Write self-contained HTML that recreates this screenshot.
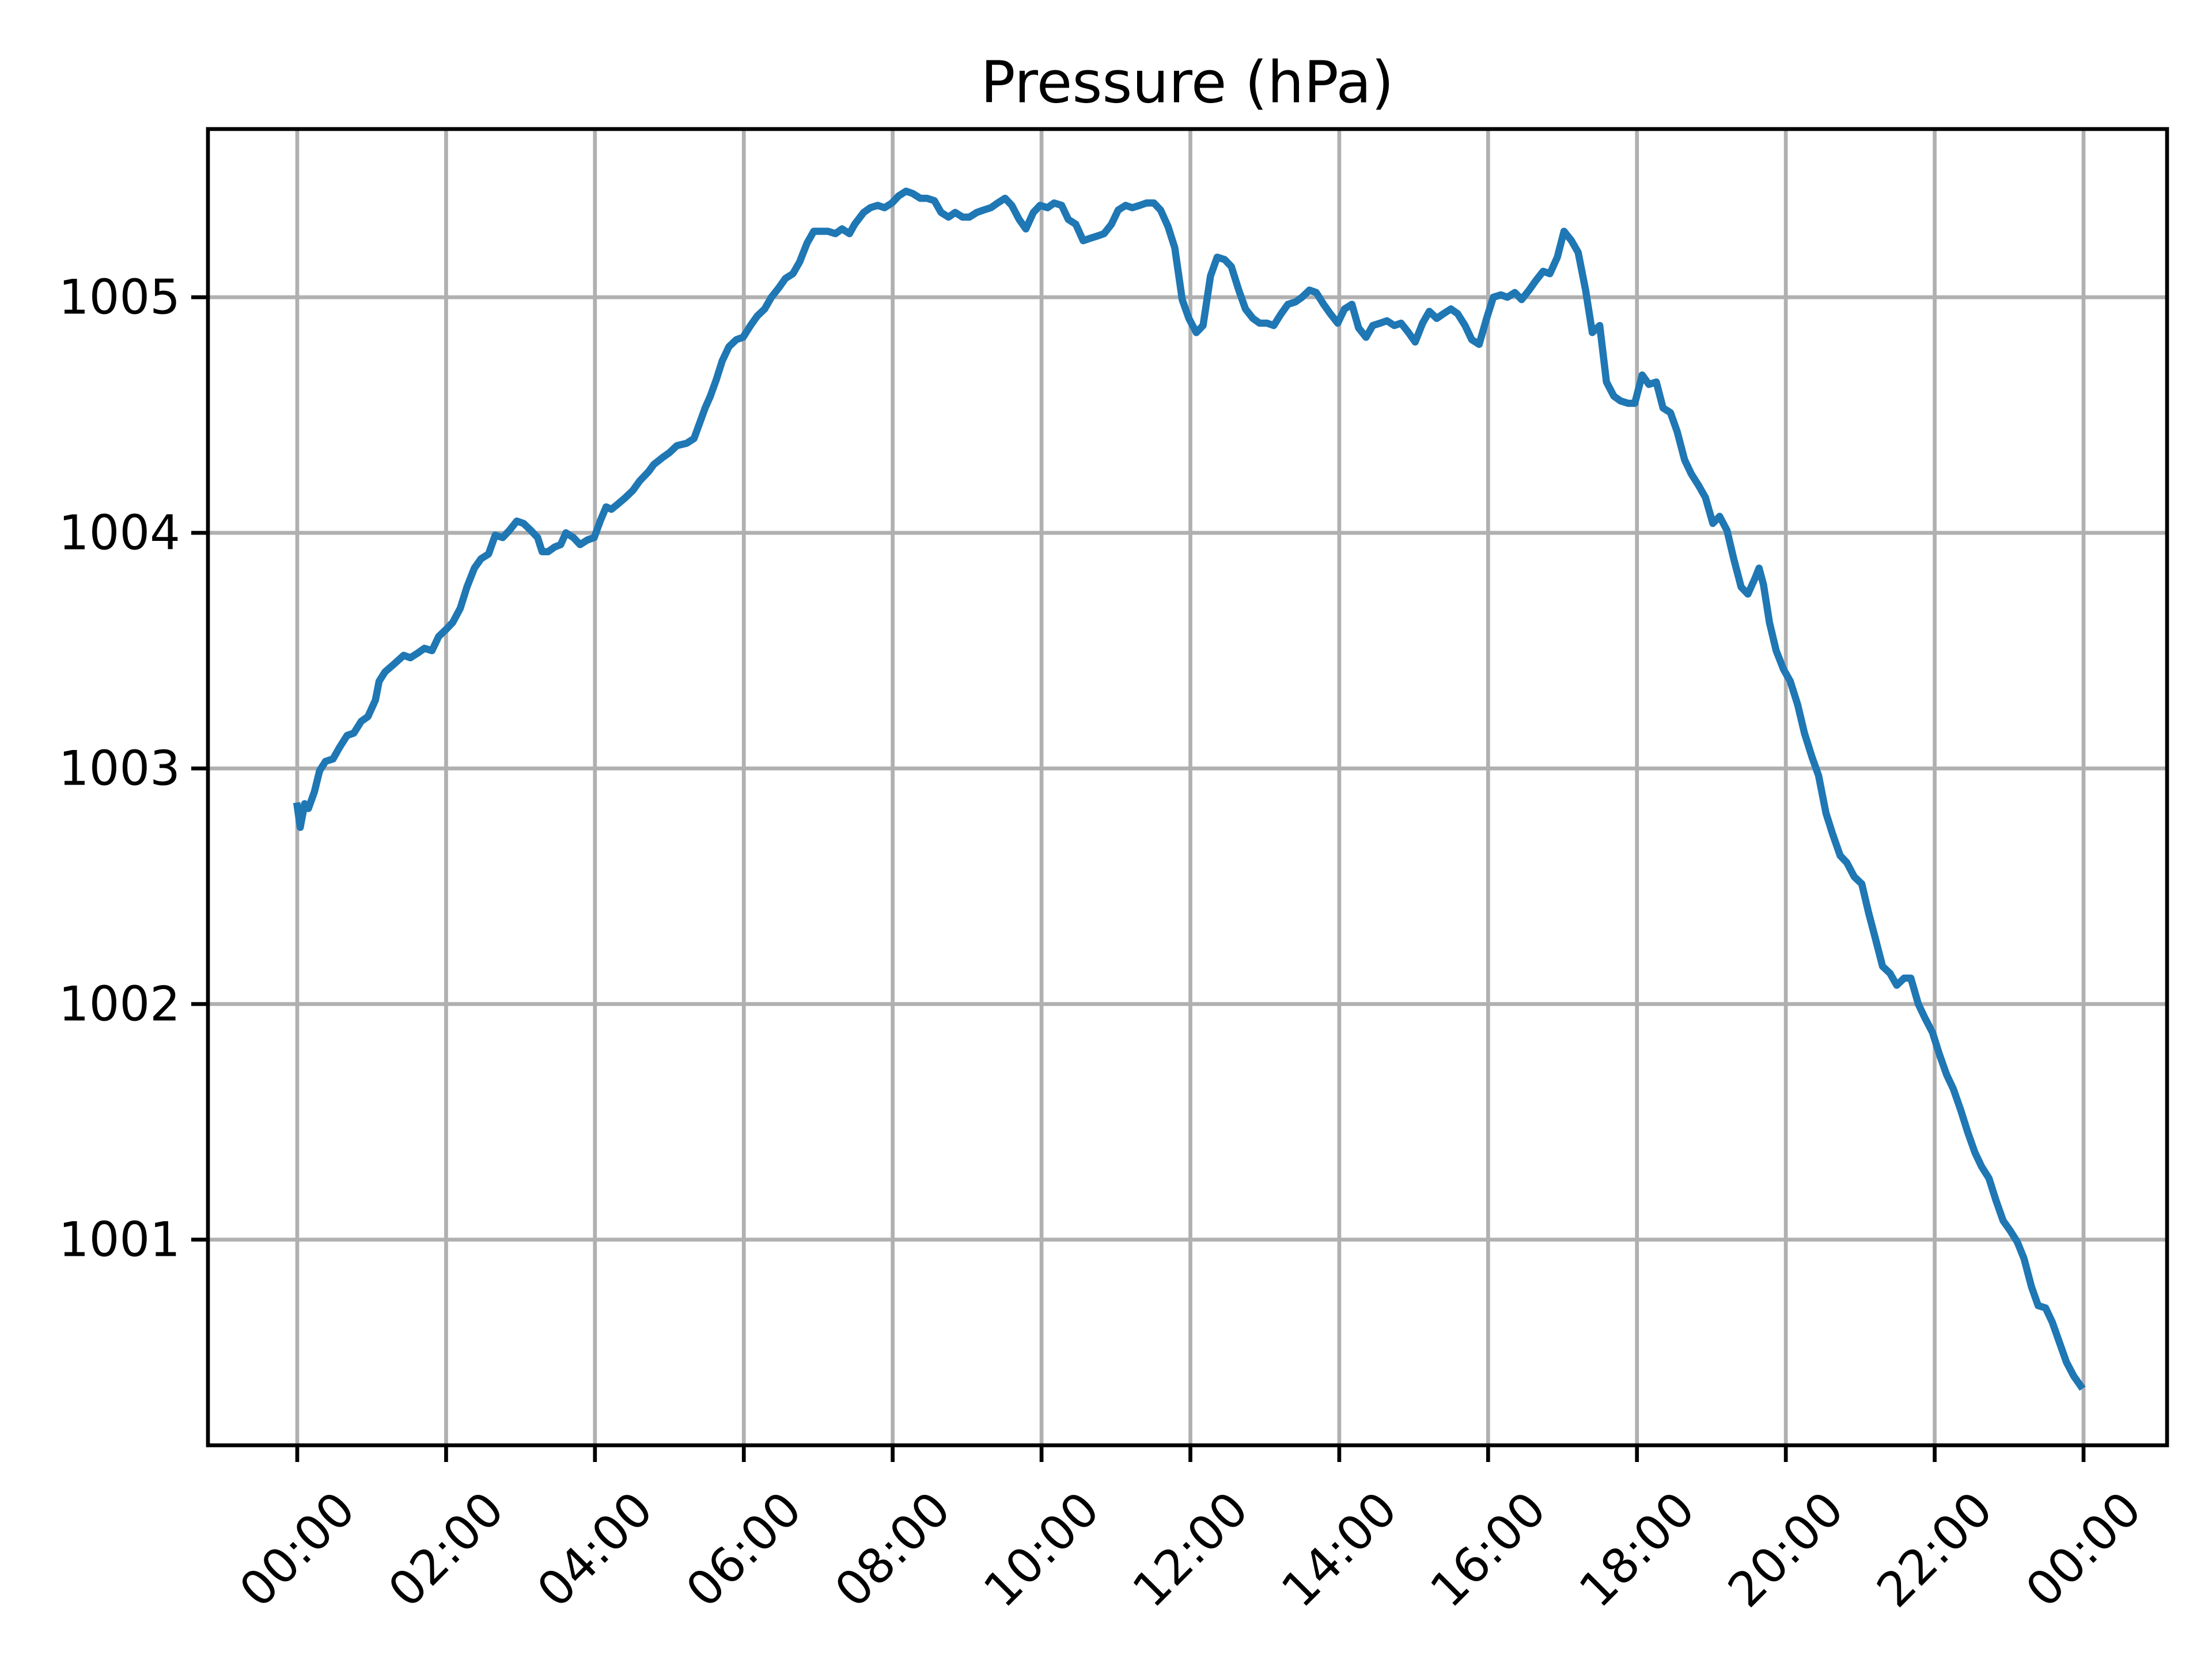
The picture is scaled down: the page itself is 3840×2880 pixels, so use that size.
<!DOCTYPE html>
<html><head><meta charset="utf-8"><style>html,body{margin:0;padding:0;background:#fff}svg{display:block}</style></head>
<body>
<svg id="chart" width="3840" height="2880" viewBox="0 0 3840 2880" xmlns="http://www.w3.org/2000/svg" font-family="'DejaVu Sans','Liberation Sans',sans-serif">
<rect width="3840" height="2880" fill="#fff"/>
<text x="2061" y="143" font-size="100" text-anchor="middle" dominant-baseline="central">Pressure (hPa)</text>
<g id="grid"></g>
<g id="axes"></g>
<path id="series" fill="none" stroke="#1f77b4" stroke-width="12.5" stroke-linejoin="round" stroke-linecap="square"/>
<rect x="361" y="224" width="3401" height="2285" fill="none" stroke="#000" stroke-width="6.7"/>
</svg>
<script>
const hours=[0,0.04,0.10,0.15,0.23,0.30,0.38,0.48,0.57,0.67,0.76,0.86,0.95,1.05,1.10,1.18,1.29,1.43,1.52,1.62,1.71,1.81,1.90,2.00,2.09,2.19,2.28,2.38,2.47,2.57,2.66,2.76,2.85,2.95,3.04,3.14,3.23,3.29,3.37,3.46,3.54,3.61,3.71,3.80,3.90,3.99,4.07,4.15,4.22,4.30,4.41,4.51,4.60,4.72,4.79,4.91,5.00,5.10,5.23,5.33,5.40,5.48,5.55,5.63,5.71,5.80,5.90,5.99,6.09,6.18,6.28,6.37,6.47,6.56,6.66,6.75,6.85,6.94,7.04,7.13,7.23,7.32,7.42,7.49,7.61,7.70,7.80,7.89,7.99,8.08,8.18,8.27,8.37,8.46,8.56,8.65,8.75,8.84,8.94,9.03,9.13,9.22,9.32,9.41,9.51,9.60,9.70,9.79,9.89,9.98,10.08,10.17,10.27,10.36,10.46,10.56,10.65,10.75,10.84,10.94,11.03,11.13,11.22,11.32,11.41,11.51,11.60,11.70,11.79,11.89,11.98,12.08,12.17,12.27,12.36,12.46,12.55,12.65,12.74,12.84,12.93,13.03,13.12,13.22,13.31,13.41,13.50,13.60,13.69,13.79,13.88,13.98,14.07,14.17,14.26,14.36,14.45,14.55,14.64,14.74,14.83,14.93,15.02,15.12,15.21,15.31,15.40,15.50,15.59,15.69,15.78,15.88,15.98,16.07,16.17,16.26,16.36,16.45,16.55,16.64,16.74,16.83,16.93,17.02,17.12,17.21,17.31,17.40,17.50,17.59,17.69,17.78,17.88,17.97,18.07,18.16,18.26,18.35,18.45,18.54,18.64,18.73,18.83,18.92,19.02,19.11,19.21,19.30,19.40,19.49,19.59,19.64,19.70,19.78,19.87,19.97,20.06,20.16,20.25,20.35,20.44,20.54,20.63,20.73,20.82,20.92,21.02,21.11,21.21,21.30,21.40,21.49,21.59,21.68,21.78,21.87,21.97,22.06,22.16,22.25,22.35,22.44,22.54,22.63,22.73,22.82,22.92,23.01,23.11,23.20,23.30,23.39,23.49,23.58,23.68,23.77,23.87,23.96];
const pressure=[1002.84,1002.75,1002.85,1002.83,1002.90,1002.99,1003.03,1003.04,1003.09,1003.14,1003.15,1003.20,1003.22,1003.29,1003.37,1003.41,1003.44,1003.48,1003.47,1003.49,1003.51,1003.50,1003.56,1003.59,1003.62,1003.68,1003.77,1003.85,1003.89,1003.91,1003.99,1003.98,1004.01,1004.05,1004.04,1004.01,1003.98,1003.92,1003.92,1003.94,1003.95,1004.00,1003.98,1003.95,1003.97,1003.98,1004.05,1004.11,1004.10,1004.12,1004.15,1004.18,1004.22,1004.26,1004.29,1004.32,1004.34,1004.37,1004.38,1004.40,1004.46,1004.53,1004.58,1004.65,1004.73,1004.79,1004.82,1004.83,1004.88,1004.92,1004.95,1005.00,1005.04,1005.08,1005.10,1005.15,1005.23,1005.28,1005.28,1005.28,1005.27,1005.29,1005.27,1005.31,1005.36,1005.38,1005.39,1005.38,1005.40,1005.43,1005.45,1005.44,1005.42,1005.42,1005.41,1005.36,1005.34,1005.36,1005.34,1005.34,1005.36,1005.37,1005.38,1005.40,1005.42,1005.39,1005.33,1005.29,1005.36,1005.39,1005.38,1005.40,1005.39,1005.33,1005.31,1005.24,1005.25,1005.26,1005.27,1005.31,1005.37,1005.39,1005.38,1005.39,1005.40,1005.40,1005.37,1005.30,1005.21,1004.99,1004.91,1004.85,1004.88,1005.09,1005.17,1005.16,1005.13,1005.03,1004.95,1004.91,1004.89,1004.89,1004.88,1004.93,1004.97,1004.98,1005.00,1005.03,1005.02,1004.97,1004.93,1004.89,1004.95,1004.97,1004.87,1004.83,1004.88,1004.89,1004.90,1004.88,1004.89,1004.85,1004.81,1004.89,1004.94,1004.91,1004.93,1004.95,1004.93,1004.88,1004.82,1004.80,1004.91,1005.00,1005.01,1005.00,1005.02,1004.99,1005.03,1005.07,1005.11,1005.10,1005.17,1005.28,1005.24,1005.19,1005.03,1004.85,1004.88,1004.64,1004.58,1004.56,1004.55,1004.55,1004.67,1004.63,1004.64,1004.53,1004.51,1004.43,1004.31,1004.25,1004.20,1004.15,1004.04,1004.07,1004.01,1003.89,1003.77,1003.74,1003.81,1003.85,1003.78,1003.62,1003.50,1003.42,1003.37,1003.27,1003.15,1003.05,1002.97,1002.81,1002.72,1002.63,1002.60,1002.54,1002.51,1002.39,1002.27,1002.16,1002.13,1002.08,1002.11,1002.11,1002.00,1001.94,1001.88,1001.79,1001.70,1001.64,1001.55,1001.46,1001.37,1001.31,1001.26,1001.17,1001.08,1001.04,1000.99,1000.92,1000.80,1000.72,1000.71,1000.65,1000.56,1000.48,1000.42,1000.38];
const xTickHours=[0,2,4,6,8,10,12,14,16,18,20,22,24];
const xTickLabels=["00:00","02:00","04:00","06:00","08:00","10:00","12:00","14:00","16:00","18:00","20:00","22:00","00:00"];
const yTickValues=[1001,1002,1003,1004,1005];
const yTickLabels=["1001","1002","1003","1004","1005"];

const L=361,R=3762,T=224,B=2509;
const X0=516,X1=3617;
function xs(h){return X0+h*(X1-X0)/24;}
function ys(v){return 516+(1005-v)*409;}
const NS="http://www.w3.org/2000/svg";
const grid=document.getElementById('grid'),axes=document.getElementById('axes');
function mk(tag,attrs,parent){const e=document.createElementNS(NS,tag);for(const k in attrs)e.setAttribute(k,attrs[k]);parent.appendChild(e);return e;}
xTickHours.forEach((h,i)=>{
  const x=xs(h);
  const g=mk('line',{x1:x,x2:x,y1:T,y2:B,stroke:'#b0b0b0','stroke-width':6.7},grid);
  
  
  const t=mk('line',{x1:x,x2:x,y1:B,y2:B+29,stroke:'#000','stroke-width':6.7},axes);
  
  
  const tx=mk('text',{x:x,y:2690,'font-size':83,'text-anchor':'middle','dominant-baseline':'central',transform:'rotate(-45 '+x+' 2690)'},axes);
  tx.textContent=xTickLabels[i];
  
  
});
yTickValues.forEach((v,i)=>{
  const y=ys(v);
  const g=mk('line',{x1:L,x2:R,y1:y,y2:y,stroke:'#b0b0b0','stroke-width':6.7},grid);
  
  
  const t=mk('line',{x1:L-29,x2:L,y1:y,y2:y,stroke:'#000','stroke-width':6.7},axes);
  
  
  const tx=mk('text',{x:L-48,y:y,'font-size':83,'text-anchor':'end','dominant-baseline':'central'},axes);
  tx.textContent=yTickLabels[i];
  
  
});
document.getElementById('series').setAttribute('d',hours.map((h,i)=>(i?'L':'M')+xs(h).toFixed(1)+' '+ys(pressure[i]).toFixed(1)).join(' '));
</script>
</body></html>
